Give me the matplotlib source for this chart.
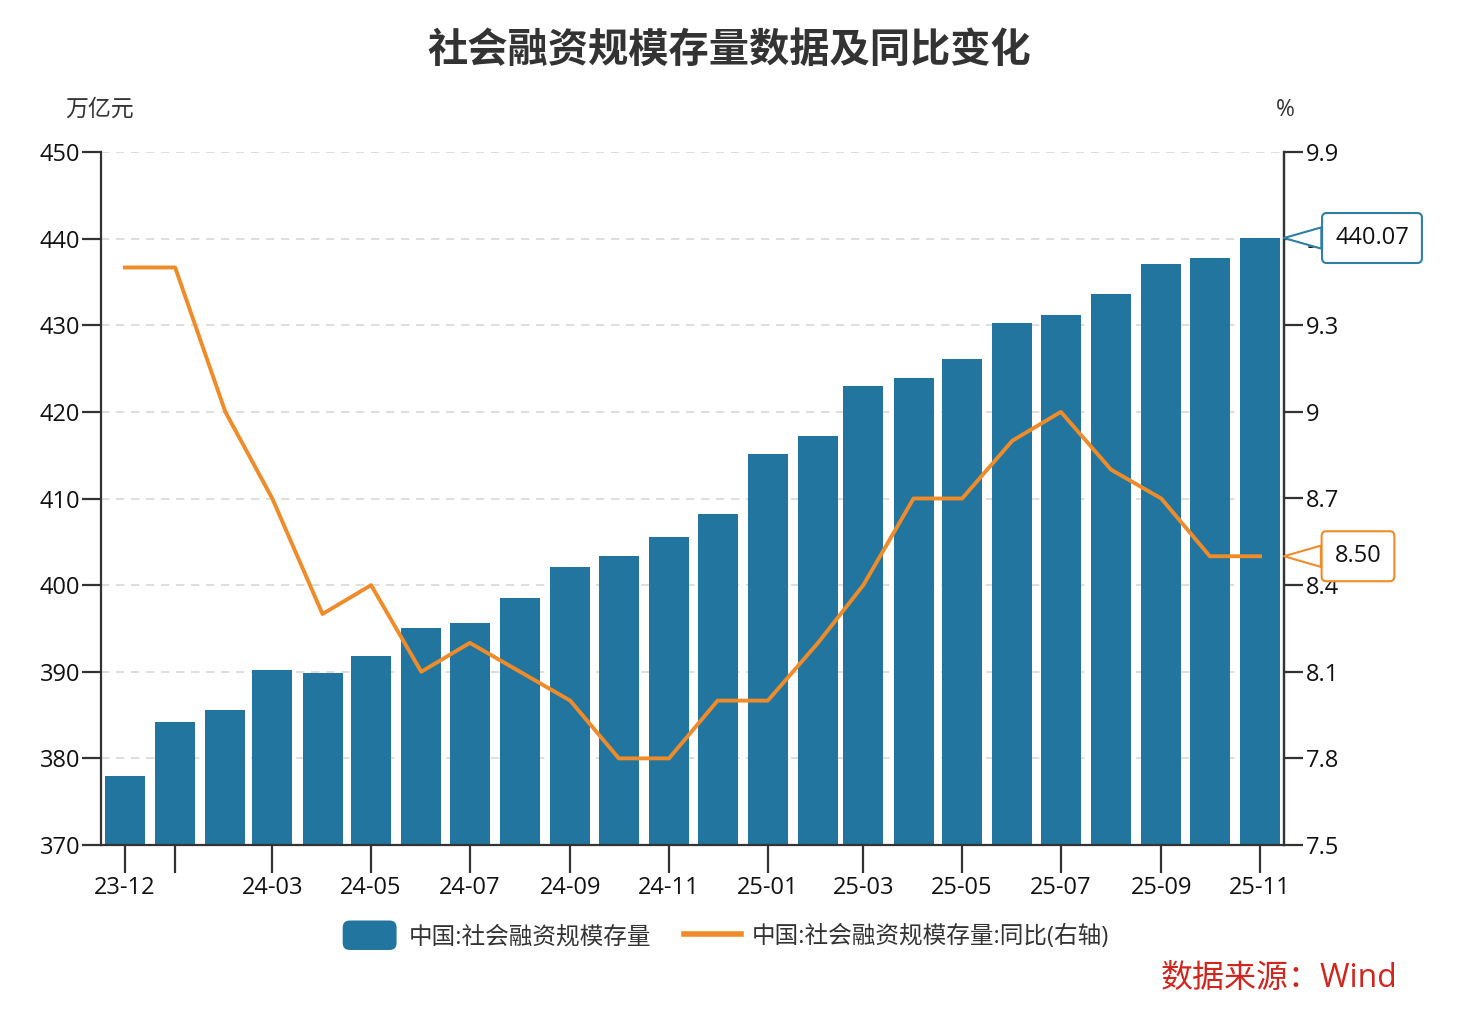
import matplotlib
matplotlib.use("Agg")
import matplotlib.pyplot as plt
import matplotlib.dates as mdates
import matplotlib.transforms as mtransforms
from matplotlib.patches import FancyBboxPatch
from matplotlib.lines import Line2D
from matplotlib.legend_handler import HandlerPatch
import datetime as dt

plt.rcParams['font.family'] = ['Open Sans', 'Noto Sans CJK SC', 'DejaVu Sans']

months = ["2023-12", "2024-01", "2024-02", "2024-03", "2024-04", "2024-05", "2024-06",
          "2024-07", "2024-08", "2024-09", "2024-10", "2024-11", "2024-12", "2025-01",
          "2025-02", "2025-03", "2025-04", "2025-05", "2025-06", "2025-07", "2025-08",
          "2025-09", "2025-10", "2025-11"]
stock = [378.0, 384.2, 385.6, 390.2, 389.9, 391.8, 395.1, 395.6, 398.5, 402.1, 403.4,
         405.5, 408.2, 415.1, 417.2, 423.0, 423.9, 426.1, 430.3, 431.2, 433.6, 437.1,
         437.8, 440.07]
yoy = [9.5, 9.5, 9.0, 8.7, 8.3, 8.4, 8.1, 8.2, 8.1, 8.0, 7.8, 7.8, 8.0, 8.0, 8.2, 8.4,
       8.7, 8.7, 8.9, 9.0, 8.8, 8.7, 8.5, 8.5]
tick_months = ["2023-12", "2024-01", "2024-03", "2024-05", "2024-07", "2024-09", "2024-11",
               "2025-01", "2025-03", "2025-05", "2025-07", "2025-09", "2025-11"]
tick_labels = ["23-12", "", "24-03", "24-05", "24-07", "24-09", "24-11",
               "25-01", "25-03", "25-05", "25-07", "25-09", "25-11"]
left_ticks = [370, 380, 390, 400, 410, 420, 430, 440, 450]
right_ticks = [7.5, 7.8, 8.1, 8.4, 8.7, 9.0, 9.3, 9.6, 9.9]
right_labels = ["7.5", "7.8", "8.1", "8.4", "8.7", "9", "9.3", "9.6", "9.9"]

BAR = "#22759e"
LINE = "#ef8b28"
DARK = "#333333"
FS = 17

def d(s):
    y, m = s.split("-")
    return mdates.date2num(dt.date(int(y), int(m), 1))

x = [d(m) for m in months]

W, H = 1457, 1024
fig = plt.figure(figsize=(W / 100, H / 100), dpi=100)
ax = fig.add_axes([101 / W, 1 - 845 / H, (1284 - 101) / W, (845 - 152) / H])

ax.bar(x, stock, width=24.7, color=BAR, zorder=2)
ax.set_ylim(370, 450)
ax.set_yticks(left_ticks)
ax.set_yticklabels([str(v) for v in left_ticks])
ax.grid(axis='y', color='#d8d8d8', linestyle=(0, (5, 4)), linewidth=1.2, zorder=0)
ax.set_xticks([d(m) for m in tick_months])
ax.set_xticklabels(tick_labels)
ax.spines['top'].set_visible(False)
for s in ['left', 'bottom', 'right']:
    ax.spines[s].set_color(DARK)
    ax.spines[s].set_linewidth(1.6)
ax.tick_params(axis='y', length=14, width=1.6, color=DARK, labelsize=FS, pad=1, labelcolor='#111111')
ax.tick_params(axis='x', length=20, width=1.6, color=DARK, labelsize=FS, pad=2, labelcolor='#111111')

ax2 = ax.twinx()
ax2.plot(x, yoy, color=LINE, linewidth=2.8, zorder=3)
ax2.set_ylim(7.5, 9.9)
ax2.set_yticks(right_ticks)
ax2.set_yticklabels(right_labels)
ax2.tick_params(axis='y', length=14, width=1.6, color=DARK, labelsize=FS, pad=2, labelcolor='#111111')
for s in ['top', 'left', 'bottom']:
    ax2.spines[s].set_visible(False)
ax2.spines['right'].set_color(DARK)
ax2.spines['right'].set_linewidth(1.6)
ax.set_xlim(x[0] - 14.8, x[-1] + 14.8)

# callouts (both on ax2 so they sit above the right tick labels)
tr1 = mtransforms.blended_transform_factory(ax.transAxes, ax.transData)
ax2.annotate(f"{stock[-1]:.2f}", xy=(1.0, stock[-1]), xycoords=tr1,
             xytext=(88, 0), textcoords='offset pixels', ha='center', va='center',
             fontsize=FS, color='#111111', annotation_clip=False, zorder=10,
             bbox=dict(boxstyle='round,pad=0.55,rounding_size=0.2', fc='white', ec='#2f7ea3', lw=1.5),
             arrowprops=dict(arrowstyle='wedge,tail_width=0.9,shrink_factor=0.5', fc='white',
                             ec='#2f7ea3', lw=1.5, shrinkA=0, shrinkB=0))
tr2 = mtransforms.blended_transform_factory(ax2.transAxes, ax2.transData)
ax2.annotate(f"{yoy[-1]:.2f}", xy=(1.0, yoy[-1]), xycoords=tr2,
             xytext=(74, 0), textcoords='offset pixels', ha='center', va='center',
             fontsize=FS, color='#111111', annotation_clip=False, zorder=10,
             bbox=dict(boxstyle='round,pad=0.55,rounding_size=0.2', fc='white', ec=LINE, lw=1.5),
             arrowprops=dict(arrowstyle='wedge,tail_width=0.9,shrink_factor=0.5', fc='white',
                             ec=LINE, lw=1.5, shrinkA=0, shrinkB=0))

# texts
fig.text(729 / W, 1 - 50 / H, "社会融资规模存量数据及同比变化", ha='center', va='center',
         fontsize=29, fontweight='bold', color='#333333', family=['Noto Sans CJK SC'])
fig.text(100 / W, 1 - 110 / H, "万亿元", ha='center', va='center', fontsize=16.5, color='#333333')
fig.text(1285 / W, 1 - 110 / H, "%", ha='center', va='center', fontsize=16.5, color='#333333')
fig.text(1397 / W, 1 - 978 / H, "数据来源：Wind", ha='right', va='center', fontsize=23, color='#d0261f')

# legend
class RoundHandler(HandlerPatch):
    def create_artists(self, legend, orig_handle, xdescent, ydescent, width, height, fontsize, trans):
        p = FancyBboxPatch((-xdescent + 1, -ydescent - 3), width - 2, height + 6,
                           boxstyle='round,pad=0,rounding_size=5', fc=BAR, ec='none', transform=trans)
        return [p]

bar_handle = FancyBboxPatch((0, 0), 1, 1, fc=BAR)
line_handle = Line2D([], [], color=LINE, linewidth=4)
leg = fig.legend([bar_handle, line_handle],
                 ["中国:社会融资规模存量", "中国:社会融资规模存量:同比(右轴)"],
                 loc='center', bbox_to_anchor=(725 / W, 1 - 937 / H), ncol=2, frameon=False,
                 fontsize=FS, handlelength=2.4, handleheight=1.0, handletextpad=0.45,
                 columnspacing=1.4, handler_map={FancyBboxPatch: RoundHandler()})
for t in leg.get_texts():
    t.set_color('#333333')

fig.savefig("out.png", dpi=100, facecolor='white')
